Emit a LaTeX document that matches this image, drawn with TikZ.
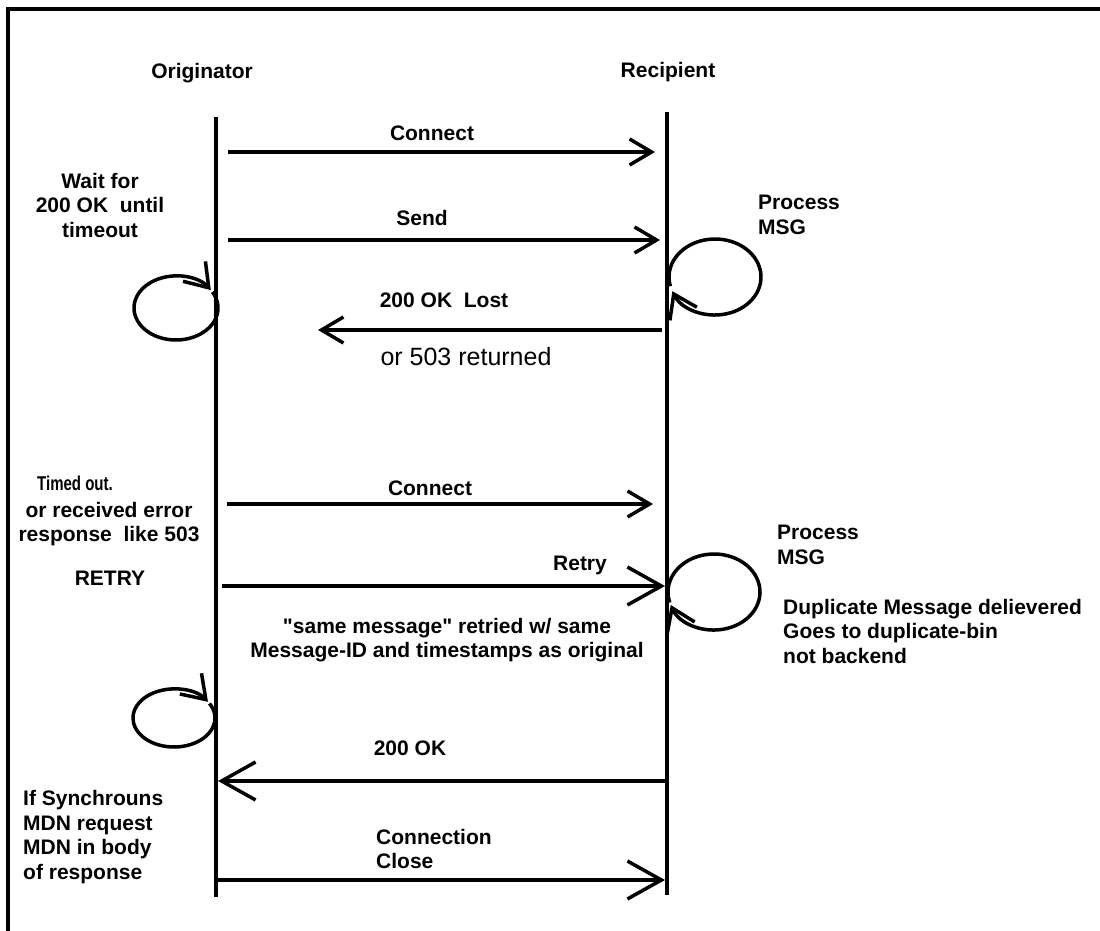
\documentclass[tikz,border=0pt]{standalone}
\usepackage{fontspec}
\setmainfont{Liberation Sans}
\newfontfamily\narrowfont[FakeStretch=0.75]{Liberation Sans}
\usetikzlibrary{arrows.meta, positioning}

\begin{document}
\begin{tikzpicture}[x=1pt, y=-1pt,
    lifeline/.style={line width=3.5pt},
    msg/.style={line width=3.5pt, -{Straight Barb[length=22pt,width=26pt]}},
    bigmsg/.style={line width=3.5pt, -{Straight Barb[length=34pt,width=38pt]}},
    selfloop/.style={line width=3.5pt, -{Straight Barb[length=22pt,width=30pt]}},
    lbl/.style={font=\fontsize{21}{24.5}\selectfont\bfseries, inner sep=0pt}]
\useasboundingbox (0,0) rectangle (1100,931);
% frame
\draw[line width=3.5pt] (8,931) -- (8,9) -- (1100,9);

% lifelines
\node[lbl] (orig) at (202,73) {Originator};
\node[lbl] (recip) at (668,72) {Recipient};
\coordinate (o-top) at (216,117);
\coordinate (o-bot) at (216,897);
\coordinate (r-top) at (667,112);
\coordinate (r-bot) at (667,895);
\draw[lifeline] (o-top) -- (o-bot);
\draw[lifeline] (r-top) -- (r-bot);

% first attempt
\coordinate (con1-a) at (228,152);
\coordinate (con1-b) at (655,152);
\draw[msg] (con1-a) -- (con1-b);
\node[lbl] (con1) at (432,133) {Connect};

\coordinate (send-a) at (228,240);
\coordinate (send-b) at (660,240);
\draw[msg] (send-a) -- (send-b);
\node[lbl] (send) at (422,218) {Send};

\coordinate (lost-a) at (662,330);
\coordinate (lost-b) at (318,330);
\draw[msg] (lost-a) -- (lost-b);
\node[lbl] (lost) at (444,300) {200 OK\ \ Lost};
\node[lbl, font=\fontsize{25}{28}\selectfont] (ret503) at (466,357) {or 503 returned};

\node[lbl, align=center] (wait) at (100,205) {Wait for\\200 OK\ \ until\\timeout};
\draw[selfloop] (176,308) ++(30:42pt and 32pt)
    arc[start angle=30, end angle=-326, x radius=42pt, y radius=32pt];

\node[lbl, anchor=west, align=left] (proc1) at (758,215) {Process\\MSG};
\draw[selfloop] (715,277) ++(194:46pt and 38pt)
    arc[start angle=194, end angle=-158, x radius=46pt, y radius=38pt];

% retry
\node[lbl, font=\fontsize{20}{22}\selectfont\narrowfont\bfseries] (timed) at (75,483) {Timed out.};
\node[lbl, align=center] (err) at (109,524) {or received error\\response\ \ like 503};
\node[lbl] (retry-l) at (110,578) {RETRY};

\coordinate (con2-a) at (227,504);
\coordinate (con2-b) at (653,504);
\draw[msg] (con2-a) -- (con2-b);
\node[lbl] (con2) at (430,488) {Connect};

\coordinate (retry-a) at (222,586);
\coordinate (retry-b) at (665,586);
\draw[bigmsg] (retry-a) -- (retry-b);
\node[lbl] (retry) at (580,565) {Retry};
\node[lbl, align=center] (same) at (447,640) {\textquotedbl same message\textquotedbl{} retried w/ same\\Message-ID and timestamps as original};

\node[lbl, anchor=west, align=left] (proc2) at (777,545) {Process\\MSG};
\draw[selfloop] (714,592) ++(196:46pt and 38pt)
    arc[start angle=196, end angle=-160, x radius=46pt, y radius=38pt];
\node[lbl, anchor=west, align=left] (dup) at (783,631) {Duplicate Message delievered\\Goes to duplicate-bin\\not backend};

\draw[selfloop] (174,718) ++(30:41pt and 29pt)
    arc[start angle=30, end angle=-326, x radius=41pt, y radius=29pt];

% answer and close
\coordinate (ok-a) at (667,781);
\coordinate (ok-b) at (218,781);
\draw[bigmsg] (ok-a) -- (ok-b);
\node[lbl] (ok) at (410,748) {200 OK};

\node[lbl, anchor=west, align=left] (mdn) at (23,837) {If Synchrouns\\MDN request\\MDN in body\\of response};

\coordinate (close-a) at (218,880);
\coordinate (close-b) at (665,880);
\draw[bigmsg] (close-a) -- (close-b);
\node[lbl, anchor=west, align=left] (close) at (376,849) {Connection\\Close};
\end{tikzpicture}
\end{document}
